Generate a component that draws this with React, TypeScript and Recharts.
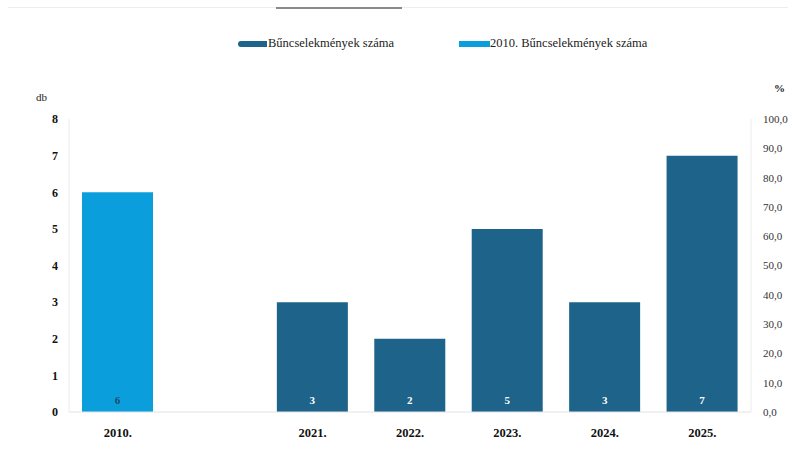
import React from "react";
import { BarChart, Bar, Line, XAxis, YAxis, LabelList } from "recharts";

// categories (the blank one is the gap between 2010 and 2021)
const years = ["2010.", "", "2021.", "2022.", "2023.", "2024.", "2025."];
// Bűncselekmények száma
const crimes = [null, null, 3, 2, 5, 3, 7];
// 2010. Bűncselekmények száma
const crimes2010 = [6, null, null, null, null, null, null];
const leftTicks = [0, 1, 2, 3, 4, 5, 6, 7, 8];
const rightTicks = [0, 10, 20, 30, 40, 50, 60, 70, 80, 90, 100];

const DARK = "#1e6389";
const LIGHT = "#0a9fdc";
const FONT = "'Liberation Serif', 'Times New Roman', serif";

const data = years.map((year, i) => ({
  year,
  crimes: crimes[i],
  crimes2010: crimes2010[i],
}));

const ChartLegend = () => (
  <div
    style={{
      position: "absolute",
      left: 0,
      top: 36,
      width: 794,
      height: 20,
      fontFamily: FONT,
      fontSize: 12.5,
      color: "#222",
    }}
  >
    <div style={{ position: "absolute", left: 238, top: 0, display: "flex", alignItems: "center" }}>
      <span style={{ display: "inline-block", width: 29, height: 6, background: DARK, borderRadius: "3px 0 0 3px" }} />
      <span style={{ marginLeft: 1 }}>Bűncselekmények száma</span>
    </div>
    <div style={{ position: "absolute", left: 459, top: 0, display: "flex", alignItems: "center" }}>
      <span style={{ display: "inline-block", width: 31, height: 6, background: LIGHT }} />
      <span>2010. Bűncselekmények száma</span>
    </div>
  </div>
);

const App: React.FC = () => {
  return (
    <div
      style={{
        position: "absolute",
        left: 0,
        top: 0,
        width: 794,
        height: 454,
        background: "#fff",
        fontFamily: FONT,
      }}
    >
      {/* leftover rule at the top of the scan */}
      <div style={{ position: "absolute", left: 8, top: 7, width: 780, height: 1, background: "#eeeeee" }} />
      <div style={{ position: "absolute", left: 276, top: 7, width: 126, height: 2, background: "#8a8a8a" }} />

      <ChartLegend />
      <div style={{ position: "absolute", left: 36, top: 91, fontSize: 11, color: "#222" }}>db</div>
      <div style={{ position: "absolute", left: 774, top: 82, fontSize: 11, fontWeight: "bold", color: "#222" }}>%</div>

      <BarChart
        width={794}
        height={454}
        data={data}
        margin={{ top: 119, right: 0, left: 0, bottom: 0 }}
        barSize={71}
      >
        <XAxis
          dataKey="year"
          height={42}
          tickLine={false}
          axisLine={{ stroke: "#e2e2e2" }}
          tick={{ fill: "#111", fontSize: 12.5, fontWeight: "bold", fontFamily: FONT }}
          tickMargin={10}
          interval={0}
        />
        <YAxis
          yAxisId="left"
          orientation="left"
          width={69}
          domain={[0, 8]}
          ticks={leftTicks}
          tickLine={false}
          tickSize={0}
          tickMargin={11}
          axisLine={{ stroke: "#ececec" }}
          tick={{ fill: "#111", fontSize: 12, fontWeight: "bold", fontFamily: FONT }}
        />
        <YAxis
          yAxisId="right"
          orientation="right"
          type="number"
          width={43}
          domain={[0, 100]}
          allowDataOverflow
          ticks={rightTicks}
          interval={0}
          tickLine={false}
          tickSize={0}
          tickMargin={12}
          axisLine={{ stroke: "#ececec" }}
          tickFormatter={(v: number) => v.toFixed(1).replace(".", ",")}
          tick={{ fill: "#333", fontSize: 11, fontFamily: FONT }}
        />
        <Bar
          yAxisId="left"
          dataKey="crimes2010"
          stackId="a"
          fill={LIGHT}
          isAnimationActive={false}
          name="2010. Bűncselekmények száma"
        >
          <LabelList
            dataKey="crimes2010"
            position="insideBottom"
            offset={8}
            fill="#1d4a6a"
            fontSize={11}
            fontWeight="bold"
            fontFamily={FONT}
          />
        </Bar>
        <Bar
          yAxisId="left"
          dataKey="crimes"
          stackId="a"
          fill={DARK}
          isAnimationActive={false}
          name="Bűncselekmények száma"
        >
          <LabelList
            dataKey="crimes"
            position="insideBottom"
            offset={8}
            fill="#fff"
            fontSize={11}
            fontWeight="bold"
            fontFamily={FONT}
          />
        </Bar>
        {/* empty series so the % axis is drawn */}
        <Line
          yAxisId="right"
          dataKey="pct"
          stroke="none"
          dot={false}
          activeDot={false}
          legendType="none"
          isAnimationActive={false}
        />
      </BarChart>
    </div>
  );
};

export default App;
